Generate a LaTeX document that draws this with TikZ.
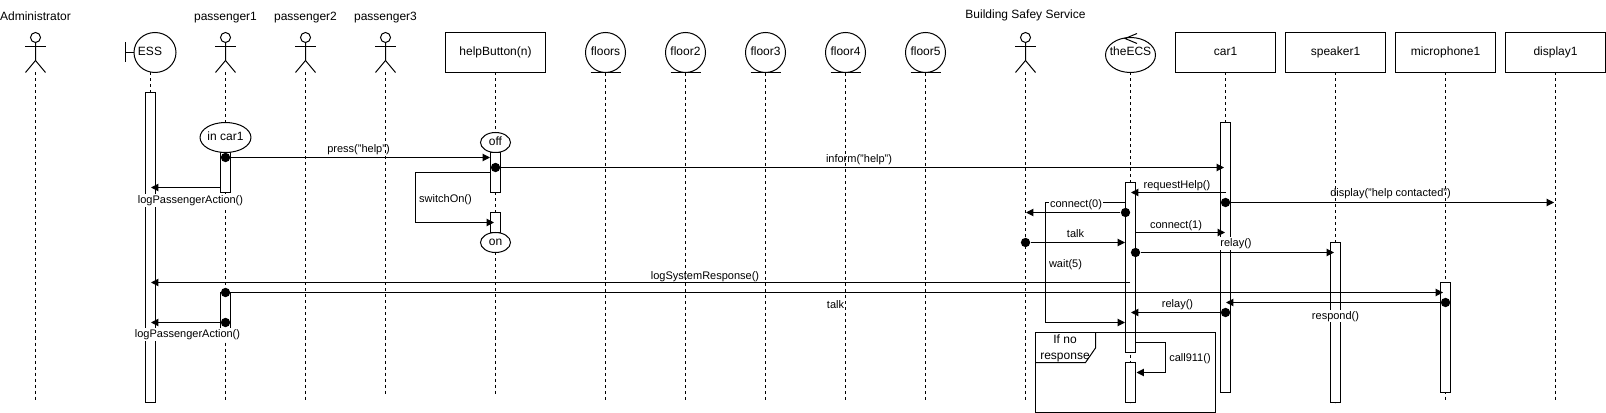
\documentclass[tikz,border=0pt]{standalone}
\usepackage{fontspec}
\setmainfont{Liberation Sans}
\usepackage{tikz}
\usetikzlibrary{arrows.meta, shapes.geometric}

\tikzset{
    every node/.style={font=\fontsize{9}{11.25}\selectfont},
    lifeline/.style={dash pattern=on 2.25pt off 2.25pt},
    onerow/.style={text height=7.2pt, text depth=2pt},
    headbox/.style={onerow, draw, fill=white, minimum width=75pt, minimum height=30pt, inner sep=0pt},
    entity/.style={onerow, draw, circle, fill=white, minimum size=30pt, inner sep=0pt},
    state/.style={draw, ellipse, fill=white, inner sep=0pt},
    bar/.style={draw, fill=white, minimum width=7.5pt, inner sep=0pt},
    dot/.style={circle, fill=black, minimum size=7pt, inner sep=0pt},
    msg/.style={-{Triangle[length=5.5pt,width=5.5pt]}},
    lbl/.style={inner sep=0.5pt, font=\fontsize{8.25}{10}\selectfont, text height=6.9pt, text depth=1.8pt},
    lblw/.style={lbl, fill=white},
    actor/.pic={
        \draw (0,5) circle (5);
        \draw (-10.5,14) -- (10.5,14);
        \draw (0,10) -- (0,28) -- (-10,40);
        \draw (0,28) -- (10,40);
    }
}

\begin{document}
\begin{tikzpicture}[x=0.75pt, y=-0.75pt, line width=0.75pt, shift={(0,0.5)}]
    \useasboundingbox (0,-0.5) rectangle (1606,412.5);

    % lifelines and heads
    \foreach \n/\x/\yend in {admin/35.5/400, passengerOne/225.5/400, passengerTwo/305.5/400, passengerThree/385.5/393, building/1025.5/400}{
        \coordinate (\n-top) at (\x,72);
        \coordinate (\n-end) at (\x,\yend);
        \draw[lifeline] (\n-top) -- (\n-end);
        \pic at (\x,32) {actor};
    }
    \foreach \n/\x/\y/\t in {admin/35.5/17/Administrator, passengerOne/225.5/17/passenger1, passengerTwo/305.5/17/passenger2, passengerThree/385.5/17/passenger3, building/1025.5/14.5/Building Safey Service}
        \node[onerow] (\n-name) at (\x,\y) {\t};

    \foreach \n/\x/\yend/\t in {helpButton/495.5/393/{helpButton(n)}, carOne/1225.5/392/car1, speakerOne/1335.5/402/speaker1, micOne/1445.5/400/microphone1, displayOne/1555.5/400/display1}{
        \coordinate (\n-end) at (\x,\yend);
        \draw[lifeline] (\x,72) -- (\n-end);
        \node[headbox] (\n) at (\x,52) {\t};
    }

    \foreach \n/\x/\t in {floors/605.5/floors, floorTwo/685.5/floor2, floorThree/765.5/floor3, floorFour/845.5/floor4, floorFive/925.5/floor5}{
        \node[entity] (\n) at (\x,52) {\t};
        \coordinate (\n-end) at (\x,400);
        \draw[lifeline] (\n.south) -- (\n-end);
        \draw (\n.south) ++(-15,0) -- ++(30,0);
    }

    % ESS boundary
    \coordinate (ESS-top) at (150.5,72);
    \coordinate (ESS-end) at (150.5,400);
    \draw[lifeline] (ESS-top) -- (ESS-end);
    \node[state, minimum width=31.5pt, minimum height=30pt] (ESS) at (155,52) {};
    \node[onerow] (ESS-name) at (150,52) {ESS};
    \draw (ESS.west) -- ++(-8.5,0) ++(0,-10) -- ++(0,20);

    % theECS control
    \coordinate (theECS-end) at (1130.5,402);
    \draw[lifeline] (1130.5,72) -- (theECS-end);
    \node[state, minimum width=37.5pt, minimum height=26.25pt] (theECS) at (1130.5,54.5) {};
    \node[onerow] (theECS-name) at (1130.5,52) {theECS};
    \coordinate (chevA) at (1137,33);
    \coordinate (chevB) at (1125,38);
    \coordinate (chevC) at (1137,43);
    \draw (chevA) -- (chevB) -- (chevC);

    % activation bars
    \foreach \n/\x/\ya/\yb in {barESS/150.5/92/402, barPassA/225.5/152/192, barPassB/225.5/292/332, barHelpA/495.5/152/192, barHelpB/495.5/212/232, barECSA/1130.5/182/352, barECSB/1130.5/362/402, barCar/1225.5/122/392, barSpeaker/1335.5/242/402, barMic/1445.5/282/392}
        \node[bar, minimum height={(\yb-\ya)*0.75pt}] (\n) at (\x,{(\ya+\yb)/2}) {};

    % states
    \node[state, onerow, minimum width=37.5pt, minimum height=22.5pt] (inCar) at (225.5,137) {in car1};
    \node[state, onerow, minimum width=22.5pt, minimum height=15pt] (off) at (495.5,142) {off};
    \node[state, onerow, minimum width=22.5pt, minimum height=15pt] (on) at (495.5,242) {on};

    % messages with a dot
    \foreach \n/\xa/\xb/\y in {press/225.5/490/157, inform/495.5/1224/167, connectZero/1125.5/1026/212, talk/1025.5/1125/242, relayOut/1135.5/1334/252, display/1225.5/1554/202, talkMic/225.5/1443/292, respond/1445.5/1226/302, relayBack/1225.5/1131/312, logActB/225.5/151/322}{
        \node[dot] (\n-dot) at (\xa,\y) {};
        \coordinate (\n-tip) at (\xb,\y);
        \draw[msg] (\n-dot) -- (\n-tip);
    }
    % messages without
    \foreach \n/\xa/\xb/\y in {request/1226/1131/192, connectOne/1136/1225/232, logSys/1130/151/282, logActA/220.5/151/187}{
        \coordinate (\n-from) at (\xa,\y);
        \coordinate (\n-tip) at (\xb,\y);
        \draw[msg] (\n-from) -- (\n-tip);
    }

    % bent messages
    \coordinate (switchA) at (490.5,172);
    \coordinate (switchB) at (415.5,172);
    \coordinate (switchC) at (415.5,222);
    \coordinate (switchD) at (494,222);
    \draw[msg] (switchA) -- (switchB) -- (switchC) -- (switchD);
    \coordinate (waitA) at (1125.5,202);
    \coordinate (waitB) at (1045.5,202);
    \coordinate (waitC) at (1045.5,322);
    \coordinate (waitD) at (1125,322);
    \draw[msg] (waitA) -- (waitB) -- (waitC) -- (waitD);
    \coordinate (callA) at (1135.5,342);
    \coordinate (callB) at (1165.5,342);
    \coordinate (callC) at (1165.5,372);
    \coordinate (callD) at (1136.5,372);
    \draw[msg] (callA) -- (callB) -- (callC) -- (callD);

    % frame
    \draw (1035.5,332) rectangle (1215.5,412);
    \draw (1095.5,332) -- (1095.5,347.5) -- (1085.5,362) -- (1035.5,362);
    \node[inner sep=0pt, align=center] (frameName) at (1065,348) {If no\\[1pt]response};

    % labels
    \foreach \n/\x/\y/\t in {pressName/358.5/149/{press("help")}, informName/859/159/{inform("help")}, requestName/1177/185/requestHelp(), displayName/1390.5/193/{display("help contacted")}, talkName/1075.5/234/talk, connectOneName/1176/225/connect(1), waitName/1065.5/263.5/wait(5), logSysName/705/276/logSystemResponse(), talkMicName/835.5/305/talk, relayBackName/1177.5/303.5/relay(), callName/1190/357.5/call911(), switchName/445.5/199/switchOn()}
        \node[lbl] (\n) at (\x,\y) {\t};
    \foreach \n/\x/\y/\t in {logActAName/190.5/200/logPassengerAction(), logActBName/187.5/334/logPassengerAction(), connectZeroName/1076/204/connect(0), relayOutName/1236/243/relay(), respondName/1335.5/315.5/respond()}
        \node[lblw] (\n) at (\x,\y) {\t};
\end{tikzpicture}
\end{document}
